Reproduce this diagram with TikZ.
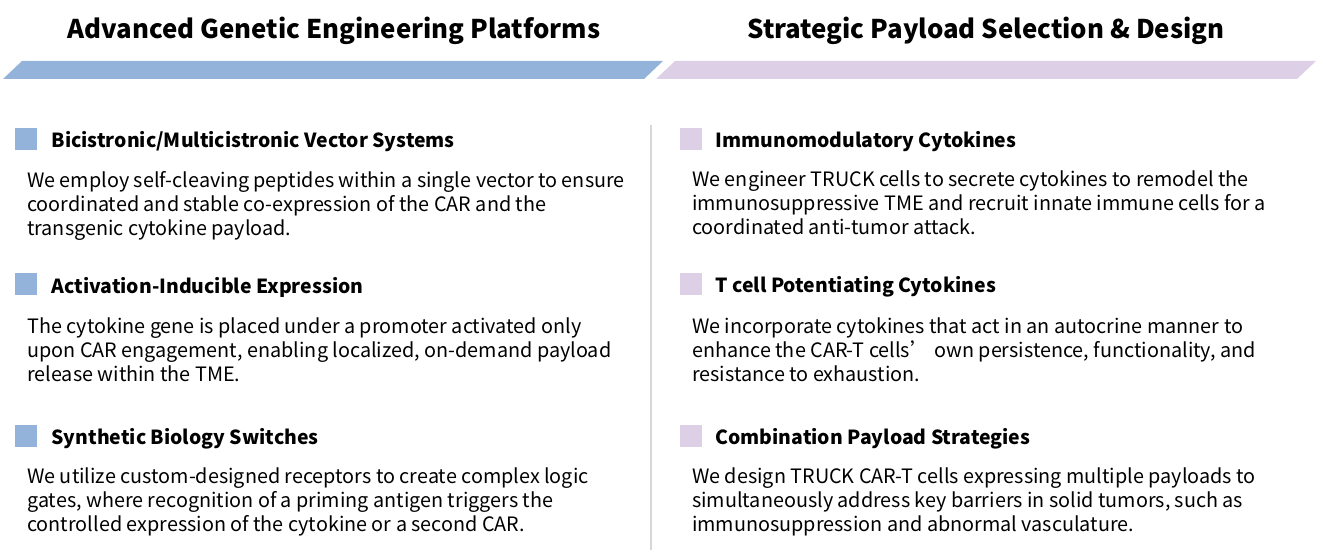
\documentclass[tikz,border=0pt]{standalone}
\usepackage{fontspec}
\setmainfont{Noto Sans CJK SC}
\definecolor{blueband}{RGB}{148,179,219}
\definecolor{purpleband}{RGB}{221,208,230}
\definecolor{divgray}{RGB}{215,215,215}
\tikzset{
  title/.style={font=\bfseries\fontsize{25.8}{30}\selectfont, anchor=center},
  heading/.style={font=\bfseries\fontsize{19.4}{23}\selectfont, anchor=west},
  body/.style={font=\fontsize{19.8}{24}\selectfont, anchor=north west, align=left, inner sep=0pt},
  marker/.style={minimum size=22pt, inner sep=0pt, draw=none},
}
\begin{document}
\begin{tikzpicture}[x=1pt,y=-1pt]
\useasboundingbox (0,0) rectangle (1326,559);
%% banners
\fill[blueband] (22,61) -- (663,61) -- (644,79) -- (3,79) -- cycle;
\fill[purpleband] (675,61) -- (1316,61) -- (1297,79) -- (656,79) -- cycle;
\node (tl) at (334,31) [title] {Advanced Genetic Engineering Platforms};
\node (tr) at (986,31) [title] {Strategic Payload Selection \& Design};
%% divider
\draw[divgray, line width=1.2pt] (651,125) -- (651,550);
%% left column
\node (m1) at (26,139) [marker, fill=blueband] {};
\node (h1) at (48,142) [heading] {Bicistronic/Multicistronic Vector Systems};
\node (b1) at (27,171) [body] {We employ self-cleaving peptides within a single vector to ensure\\coordinated and stable co-expression of the CAR and the\\transgenic cytokine payload.};
\node (m2) at (26,284) [marker, fill=blueband] {};
\node (h2) at (48,287) [heading] {Activation-Inducible Expression};
\node (b2) at (27,318) [body] {The cytokine gene is placed under a promoter activated only\\upon CAR engagement, enabling localized, on-demand payload\\release within the TME.};
\node (m3) at (26,436) [marker, fill=blueband] {};
\node (h3) at (48,439) [heading] {Synthetic Biology Switches};
\node (b3) at (27,468) [body] {We utilize custom-designed receptors to create complex logic\\gates, where recognition of a priming antigen triggers the\\controlled expression of the cytokine or a second CAR.};
%% right column
\node (m4) at (691,139) [marker, fill=purpleband] {};
\node (h4) at (712,142) [heading] {Immunomodulatory Cytokines};
\node (b4) at (692,171) [body] {We engineer TRUCK cells to secrete cytokines to remodel the\\immunosuppressive TME and recruit innate immune cells for a\\coordinated anti-tumor attack.};
\node (m5) at (691,284) [marker, fill=purpleband] {};
\node (h5) at (712,287) [heading] {T cell Potentiating Cytokines};
\node (b5) at (692,318) [body] {We incorporate cytokines that act in an autocrine manner to\\enhance the CAR-T cells\symbol{39} own persistence, functionality, and\\resistance to exhaustion.};
\node (m6) at (691,436) [marker, fill=purpleband] {};
\node (h6) at (712,439) [heading] {Combination Payload Strategies};
\node (b6) at (692,468) [body] {We design TRUCK CAR-T cells expressing multiple payloads to\\simultaneously address key barriers in solid tumors, such as\\immunosuppression and abnormal vasculature.};
\end{tikzpicture}
\end{document}
